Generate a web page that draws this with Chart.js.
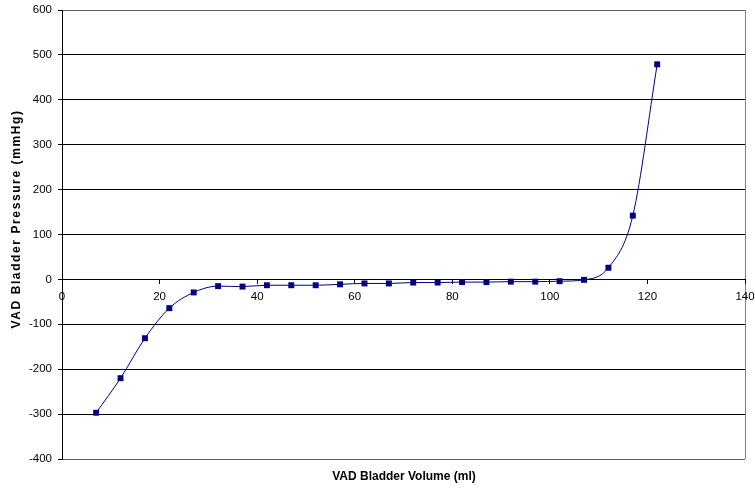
<!DOCTYPE html>
<html>
<head>
<meta charset="utf-8">
<script src="https://cdn.jsdelivr.net/npm/chart.js@4"></script>
<style>
  html, body { margin: 0; padding: 0; background: #fff; }
  #wrap { width: 755px; height: 488px; }
</style>
</head>
<body>
<div id="wrap"><canvas id="chart" width="755" height="488"></canvas></div>
<script>
// Bladder volume (ml) vs pressure (mmHg)
const volumes   = [7, 12, 17, 22, 27, 32, 37, 42, 47, 52, 57, 62, 67, 72, 77, 82, 87, 92, 97, 102, 107, 112, 117, 122];
const pressures = [-297, -220, -131, -64, -29, -15, -16, -13, -13, -13, -11, -9, -9, -7, -7, -6, -6, -5, -5, -4, -1, 26, 142, 479];

const xTitle = 'VAD Bladder Volume (ml)';
const yTitle = 'VAD Bladder Pressure (mmHg)';
const xRange = [0, 140];
const yRange = [-400, 600];

const FONT = 'Arial, "Liberation Sans", sans-serif';

// axis titles drawn by hand: the x axis crosses at y = 0, and the y title
// in the original is stretched out a bit
const titlePlugin = {
    id: 'axisTitles',
    afterDraw(chart) {
        const ctx = chart.ctx;
        ctx.save();
        ctx.font = 'bold 12px ' + FONT;
        ctx.fillStyle = '#000';
        ctx.textAlign = 'center';
        ctx.textBaseline = 'middle';
        ctx.fillText(xTitle, 404, 477);

        ctx.translate(17, 219);
        ctx.rotate(-Math.PI / 2);
        ctx.letterSpacing = '1.6px';
        ctx.fillText(yTitle, 0, 0);
        ctx.restore();
    },
};

new Chart(document.getElementById('chart'), {
    type: 'line',
    data: {
        datasets: [{
            data: volumes.map((v, i) => ({ x: v, y: pressures[i] })),
            borderColor: '#000080',
            backgroundColor: '#000080',
            borderWidth: 1,
            pointStyle: 'rect',
            pointRadius: 4.2,
            pointBorderWidth: 0,
            cubicInterpolationMode: 'monotone',
            fill: false,
        }],
    },
    options: {
        responsive: false,
        animation: false,
        layout: { padding: { left: 0, top: 10, right: 10, bottom: 29 } },
        plugins: {
            legend: { display: false },
            tooltip: { enabled: false },
        },
        scales: {
            x: {
                type: 'linear',
                min: xRange[0],
                max: xRange[1],
                position: { y: 0 },
                afterFit: s => { s.paddingLeft = 0; s.paddingRight = 0; },
                grid: {
                    drawOnChartArea: true,
                    drawTicks: true,
                    tickLength: 4,
                    color: c => (c.tick && c.tick.value === xRange[1]) ? '#808080' : 'rgba(0,0,0,0)',
                    tickColor: '#000',
                },
                border: { display: true, color: '#000', width: 1 },
                ticks: {
                    stepSize: 20,
                    color: '#000',
                    padding: 7,
                    font: { family: FONT, size: 11.5 },
                },
            },
            y: {
                min: yRange[0],
                max: yRange[1],
                afterFit: s => { s.width = 62; s.paddingTop = 0; s.paddingBottom = 0; },
                grid: {
                    color: c => (c.tick && (c.tick.value === yRange[0] || c.tick.value === yRange[1])) ? '#606060' : '#000',
                    tickLength: 4,
                    tickColor: '#000',
                },
                border: { display: true, color: '#000', width: 1 },
                ticks: {
                    stepSize: 100,
                    color: '#000',
                    padding: 6,
                    font: { family: FONT, size: 11.5 },
                },
            },
        },
    },
    plugins: [titlePlugin],
});
</script>
</body>
</html>
